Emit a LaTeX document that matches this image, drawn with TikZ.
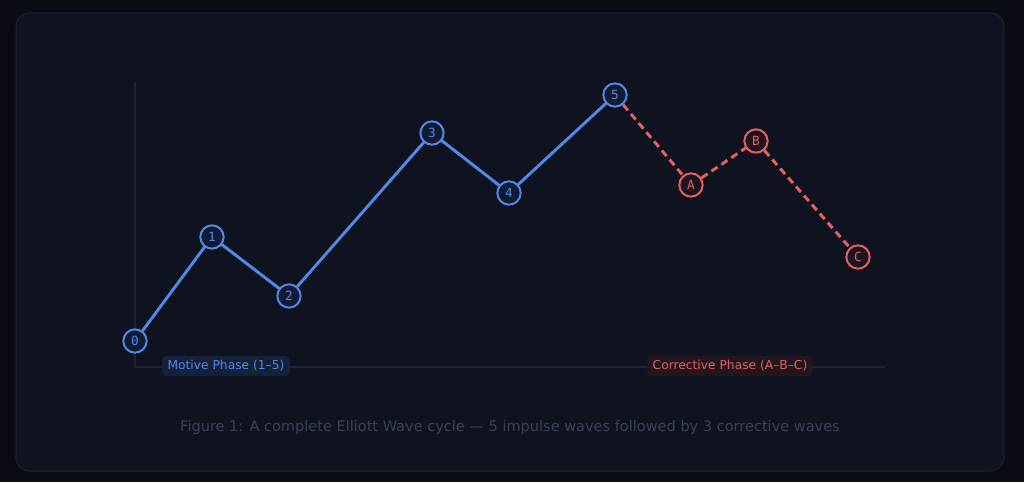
\documentclass[tikz,border=0pt]{standalone}
\usepackage{fontspec}
\setmainfont{DejaVu Sans}
\newfontfamily\wavemono{DejaVu Sans Mono}
\usetikzlibrary{positioning}

\definecolor{pagebg}{HTML}{090C13}
\definecolor{cardbg}{HTML}{0F1320}
\definecolor{cardline}{HTML}{1B2030}
\definecolor{axisgray}{HTML}{1E2433}
\definecolor{motiveblue}{HTML}{5288E6}
\definecolor{correctred}{HTML}{E5605E}
\definecolor{motivefill}{HTML}{121B31}
\definecolor{correctfill}{HTML}{1C1520}
\definecolor{motivebox}{HTML}{15203A}
\definecolor{correctbox}{HTML}{24161E}
\definecolor{captiongray}{HTML}{3A4154}

\begin{document}
\begin{tikzpicture}[x=0.75pt,y=-0.75pt]
\tikzset{
motive/.style={circle,draw=motiveblue,fill=motivefill,line width=1.5pt,text=motiveblue,
inner sep=0pt,minimum size=17.5pt,font=\wavemono\fontsize{9.5}{11}\selectfont},
corrective/.style={motive,draw=correctred,fill=correctfill,text=correctred},
motiveline/.style={draw=motiveblue,line width=2.2pt,line cap=round},
correctiveline/.style={draw=correctred,line width=2.2pt,dash pattern=on 5.5pt off 3.5pt},
phaselabel/.style={rectangle,rounded corners=3pt,inner xsep=4pt,inner ysep=3.5pt,
font=\fontsize{9.2}{11}\selectfont},
}

% background and card
\fill[pagebg] (0,0) rectangle (1024,482);
\useasboundingbox (0,0) rectangle (1024,482);
\draw[cardline,fill=cardbg,line width=0.8pt,rounded corners=10pt] (16,13) rectangle (1004,471);

% axes
\draw[axisgray,line width=0.8pt] (135,82) -- (135,368);
\draw[axisgray,line width=0.8pt] (135,367) -- (885,367);

% wave points
\node [motive] (wave0) at (135,341) {0};
\node [motive] (wave1) at (212,237) {1};
\node [motive] (wave2) at (289,296) {2};
\node [motive] (wave3) at (432,133) {3};
\node [motive] (wave4) at (509,193) {4};
\node [motive] (wave5) at (615,95) {5};
\node [corrective] (waveA) at (691,185) {A};
\node [corrective] (waveB) at (756,141) {B};
\node [corrective] (waveC) at (858,257) {C};

% connectors
\draw[motiveline] (wave0) -- (wave1);
\draw[motiveline] (wave1) -- (wave2);
\draw[motiveline] (wave2) -- (wave3);
\draw[motiveline] (wave3) -- (wave4);
\draw[motiveline] (wave4) -- (wave5);
\draw[correctiveline] (wave5) -- (waveA);
\draw[correctiveline] (waveA) -- (waveB);
\draw[correctiveline] (waveB) -- (waveC);

% phase labels
\node [phaselabel,fill=motivebox,text=motiveblue] (motivelabel) at (226,366) {Motive Phase (1–5)};
\node [phaselabel,fill=correctbox,text=correctred] (correctlabel) at (730,366) {Corrective Phase (A–B–C)};

% caption
\node [text=captiongray,font=\fontsize{10.9}{13}\selectfont] (caption) at (510,427)
{Figure 1: A complete Elliott Wave cycle — 5 impulse waves followed by 3 corrective waves};
\end{tikzpicture}
\end{document}
